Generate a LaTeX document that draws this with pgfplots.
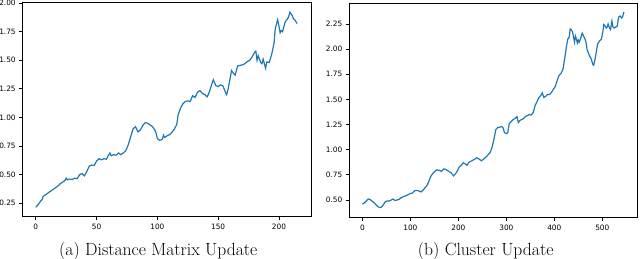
\documentclass[border=0pt]{standalone}
\usepackage{fontspec}
\usepackage{pgfplots}
\pgfplotsset{compat=1.18}
\newfontfamily\tickfont{DejaVu Sans}
\definecolor{mplblue}{HTML}{1F77B4}
\pgfplotsset{
  mplstyle/.style={
    scale only axis,
    axis line style={black, line width=0.8bp},
    tick pos=left,
    tick align=outside,
    major tick length=3.5bp,
    every tick/.style={black, line width=0.8bp},
    tick label style={font=\tickfont\fontsize{7.4}{9}\selectfont},
    /pgf/number format/assume math mode=true,
    scaled ticks=false,
    yticklabel style={/pgf/number format/.cd, fixed, fixed zerofill, precision=2},
    xticklabel style={/pgf/number format/.cd, fixed, precision=0},
  }
}
\begin{document}
\begin{tikzpicture}
\path[use as bounding box] (0,0) rectangle (640bp,-259bp);
\begin{axis}[mplstyle,
  at={(22.7bp,-216.7bp)}, anchor=south west,
  width=288.8bp, height=214bp,
  xmin=-10.8, xmax=226.8, ymin=0.133, ymax=2.003,
  xtick={0,50,100,150,200},
  ytick={0.25,0.5,0.75,1,1.25,1.5,1.75,2},
]
\addplot[mplblue, line width=1.2bp, no markers] coordinates {
(0,0.215) (2,0.24) (4,0.27) (5,0.28) (6,0.31) (8,0.325) (10,0.34) (12,0.355)
(14,0.37) (16,0.385) (18,0.40) (20,0.42) (22,0.435) (24,0.45) (25,0.47) (26,0.455)
(28,0.462) (30,0.458) (32,0.47) (34,0.465) (36,0.50) (38,0.51) (40,0.49) (42,0.53)
(44,0.575) (46,0.585) (48,0.58) (50,0.62) (52,0.64) (54,0.63) (56,0.64) (58,0.635)
(60,0.675) (61,0.69) (62,0.665) (64,0.675) (66,0.67) (68,0.69) (70,0.675) (72,0.69)
(74,0.71) (76,0.76) (78,0.83) (80,0.90) (82,0.92) (84,0.875) (86,0.89) (88,0.93)
(90,0.955) (92,0.95) (94,0.935) (96,0.92) (98,0.89) (99,0.86) (100,0.815) (102,0.80)
(104,0.81) (105,0.845) (106,0.825) (108,0.84) (110,0.85) (112,0.87) (114,0.90) (116,0.94)
(117,1.02) (119,1.08) (121,1.12) (123,1.14) (125,1.145) (127,1.14) (129,1.19) (131,1.175)
(133,1.22) (135,1.235) (137,1.21) (139,1.20) (141,1.18) (143,1.23) (145,1.30) (146,1.33)
(148,1.28) (150,1.27) (152,1.285) (154,1.275) (156,1.22) (157,1.20) (158,1.24) (160,1.35)
(161,1.41) (163,1.38) (164,1.37) (166,1.45) (168,1.455) (170,1.46) (172,1.47) (174,1.49)
(176,1.50) (178,1.53) (180,1.57) (181,1.58) (182,1.50) (183,1.54) (185,1.48) (186,1.47)
(187,1.51) (189,1.43) (190,1.485) (192,1.48) (194,1.55) (195,1.60) (196,1.65) (197,1.78)
(199,1.855) (200,1.80) (201,1.74) (202,1.76) (203,1.75) (205,1.83) (206,1.85) (207,1.86)
(208,1.88) (209,1.92) (210,1.905) (211,1.89) (212,1.86) (213,1.855) (215,1.82)
};
\end{axis}
\begin{axis}[mplstyle,
  at={(349.3bp,-217.7bp)}, anchor=south west,
  width=287.7bp, height=214.4bp,
  xmin=-27.25, xmax=572.25, ymin=0.324, ymax=2.456,
  xtick={0,100,200,300,400,500},
  ytick={0.5,0.75,1,1.25,1.5,1.75,2,2.25},
]
\addplot[mplblue, line width=1.2bp, no markers] coordinates {
(0,0.46) (4,0.47) (8,0.49) (12,0.51) (16,0.505) (20,0.49) (24,0.475) (28,0.455)
(32,0.435) (36,0.425) (40,0.43) (44,0.455) (48,0.485) (52,0.49) (56,0.49) (60,0.50)
(64,0.51) (68,0.495) (72,0.50) (76,0.505) (80,0.52) (86,0.535) (92,0.545) (98,0.56)
(104,0.57) (110,0.595) (114,0.595) (118,0.59) (122,0.58) (126,0.595) (130,0.62) (134,0.64)
(138,0.68) (142,0.73) (146,0.76) (150,0.78) (155,0.80) (160,0.795) (165,0.785) (170,0.81)
(175,0.80) (180,0.785) (185,0.77) (190,0.74) (194,0.76) (198,0.79) (202,0.83) (206,0.845)
(210,0.87) (214,0.86) (218,0.845) (222,0.875) (228,0.89) (234,0.905) (238,0.92) (242,0.91)
(248,0.89) (252,0.905) (258,0.93) (262,0.95) (266,0.97) (270,1.02) (274,1.10) (278,1.20)
(282,1.22) (286,1.225) (290,1.23) (293,1.22) (296,1.17) (300,1.16) (303,1.17) (306,1.26)
(310,1.28) (314,1.30) (318,1.31) (322,1.33) (325,1.27) (328,1.29) (332,1.30) (336,1.31)
(340,1.33) (344,1.34) (348,1.35) (352,1.345) (356,1.37) (360,1.44) (364,1.48) (368,1.52)
(372,1.54) (375,1.565) (378,1.52) (382,1.53) (386,1.55) (390,1.55) (394,1.57) (398,1.60)
(402,1.63) (406,1.69) (410,1.74) (414,1.76) (418,1.80) (422,1.92) (425,2.02) (428,2.10)
(431,2.12) (433,2.20) (436,2.19) (438,2.17) (440,2.12) (442,2.07) (444,2.13) (446,2.10)
(448,2.06) (450,2.09) (452,2.07) (455,2.11) (458,2.16) (461,2.13) (464,2.10) (466,2.07)
(468,2.00) (471,1.96) (474,1.93) (477,1.90) (480,1.85) (482,1.84) (484,1.88) (487,1.96)
(490,2.05) (494,2.08) (498,2.10) (501,2.17) (503,2.245) (506,2.23) (508,2.21) (510,2.22)
(512,2.25) (515,2.21) (517,2.195) (520,2.28) (522,2.22) (525,2.21) (528,2.22) (531,2.23)
(534,2.32) (537,2.33) (540,2.31) (542,2.32) (545,2.37)
};
\end{axis}
\node[anchor=base, font=\fontsize{17.7}{20}\selectfont] at (158.3bp,-255.5bp) {(a) Distance Matrix Update};
\node[anchor=base, font=\fontsize{17.7}{20}\selectfont] at (485.7bp,-255.5bp) {(b) Cluster Update};
\end{tikzpicture}
\end{document}
